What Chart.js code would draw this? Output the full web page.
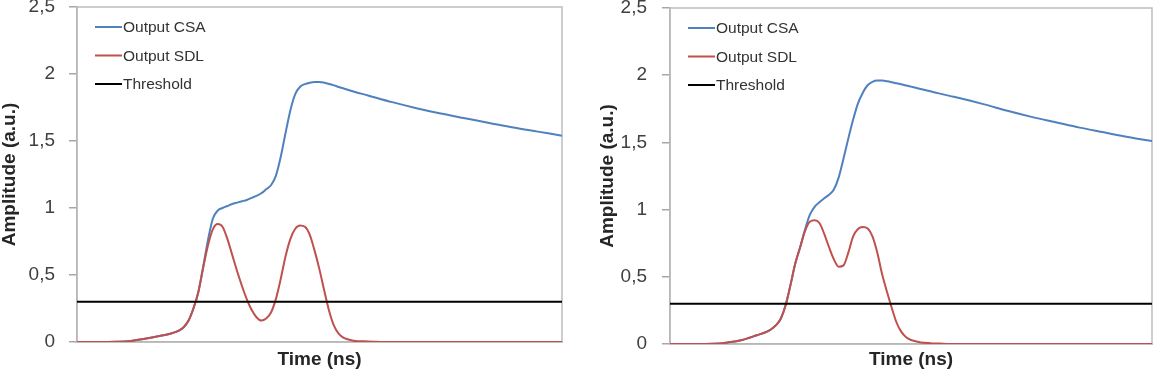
<!DOCTYPE html>
<html>
<head>
<meta charset="utf-8">
<script src="https://cdn.jsdelivr.net/npm/chart.js@4.4.1/dist/chart.umd.min.js"></script>
<style>
  html, body { margin: 0; padding: 0; background: #fff; }
  .box { position: absolute; top: 0; height: 372px; width: 578px; }
</style>
</head>
<body>
<div class="box" style="left:0"><canvas id="leftCanvas"></canvas></div>
<div class="box" style="left:578px"><canvas id="rightCanvas"></canvas></div>
<script>
// y axis tick labels (decimal comma)
var yTicks = [0, 0.5, 1, 1.5, 2, 2.5];
var yTickLabels = ['0', '0,5', '1', '1,5', '2', '2,5'];
var seriesNames = ['Output CSA', 'Output SDL', 'Threshold'];
var thresholdTime = [0, 100];
var thresholdValue = [0.3, 0.3];

// left plot
var leftTime = [0, 5, 8, 11, 14, 17, 19, 21, 22, 23, 24, 25, 26, 27, 28, 29, 30, 31, 32, 33, 34, 35,
  36, 37, 38, 39, 40, 41, 42, 43, 44, 45, 46, 47, 48, 49, 50, 51, 52, 53, 54, 55, 57, 60, 65, 70, 75,
  80, 85, 90, 95, 100];
var leftCSA = [0, 0, 0.002, 0.008, 0.025, 0.045, 0.06, 0.085, 0.11, 0.16, 0.25, 0.37, 0.56, 0.76, 0.92,
  0.98, 1.0, 1.015, 1.03, 1.04, 1.05, 1.06, 1.075, 1.09, 1.11, 1.14, 1.17, 1.24, 1.38, 1.56, 1.73, 1.85,
  1.905, 1.925, 1.935, 1.94, 1.94, 1.935, 1.926, 1.915, 1.903, 1.892, 1.87, 1.84, 1.79, 1.745, 1.705,
  1.67, 1.635, 1.60, 1.57, 1.54];
var leftSDL = [0, 0, 0.002, 0.008, 0.025, 0.045, 0.06, 0.085, 0.11, 0.16, 0.25, 0.37, 0.55, 0.72, 0.84,
  0.88, 0.86, 0.77, 0.65, 0.53, 0.42, 0.32, 0.24, 0.185, 0.16, 0.175, 0.22, 0.32, 0.47, 0.64, 0.77, 0.845,
  0.87, 0.86, 0.80, 0.68, 0.54, 0.38, 0.23, 0.12, 0.06, 0.03, 0.01, 0.004, 0, 0, 0, 0, 0, 0, 0, 0];

// right plot
var rightTime = [0, 5, 9, 12, 15, 18, 20, 21, 22, 23, 24, 25, 26, 27, 28, 29, 30, 31, 32, 33, 34, 35,
  36, 37, 38, 39, 40, 41, 42, 43, 44, 45, 46, 47, 48, 49, 50, 51, 52, 54, 56, 58, 60, 65, 70, 75, 80,
  85, 90, 95, 100];
var rightCSA = [0, 0, 0.002, 0.012, 0.03, 0.065, 0.09, 0.11, 0.14, 0.19, 0.29, 0.44, 0.60, 0.72, 0.85,
  0.96, 1.02, 1.055, 1.085, 1.11, 1.15, 1.24, 1.38, 1.53, 1.67, 1.79, 1.87, 1.925, 1.95, 1.96, 1.96,
  1.955, 1.948, 1.94, 1.932, 1.924, 1.915, 1.906, 1.897, 1.88, 1.863, 1.846, 1.83, 1.785, 1.735, 1.69,
  1.65, 1.61, 1.575, 1.54, 1.51];
var rightSDL = [0, 0, 0.002, 0.012, 0.03, 0.065, 0.09, 0.11, 0.14, 0.19, 0.29, 0.44, 0.60, 0.72, 0.84,
  0.91, 0.92, 0.90, 0.82, 0.72, 0.63, 0.575, 0.585, 0.68, 0.80, 0.855, 0.87, 0.86, 0.80, 0.68, 0.52,
  0.39, 0.27, 0.16, 0.09, 0.05, 0.03, 0.02, 0.012, 0.006, 0.003, 0, 0, 0, 0, 0, 0, 0, 0, 0, 0];

var FONT = '"Liberation Sans", Arial, sans-serif';

function toPoints(xs, ys) {
  return xs.map(function (x, i) { return { x: x, y: ys[i] }; });
}

// grey frame around the plot area
var frame = {
  id: 'frame',
  beforeDatasetsDraw: function (chart) {
    var a = chart.chartArea, ctx = chart.ctx;
    ctx.save();
    ctx.strokeStyle = '#bdbdbd';
    ctx.lineWidth = 1.5;
    ctx.strokeRect(a.left, a.top, a.right - a.left, a.bottom - a.top);
    ctx.restore();
  }
};

// legend drawn inside the plot, top left
var insideLegend = {
  id: 'insideLegend',
  afterDatasetsDraw: function (chart) {
    var a = chart.chartArea, ctx = chart.ctx;
    ctx.save();
    ctx.font = '15.5px ' + FONT;
    ctx.textBaseline = 'middle';
    chart.data.datasets.forEach(function (ds, i) {
      var y = a.top + 20 + i * 28.5;
      ctx.strokeStyle = ds.borderColor;
      ctx.lineWidth = 2;
      ctx.beginPath();
      ctx.moveTo(a.left + 18, y);
      ctx.lineTo(a.left + 45, y);
      ctx.stroke();
      ctx.fillStyle = '#333333';
      ctx.fillText(ds.label, a.left + 46, y + 1);
    });
    ctx.restore();
  }
};

function createChart(canvasId, time, csa, sdl, layout) {
  var ctx = document.getElementById(canvasId).getContext('2d');
  return new Chart(ctx, {
    type: 'line',
    data: {
      datasets: [
        { label: seriesNames[0], data: toPoints(time, csa), borderColor: '#4F81BD', order: 3 },
        { label: seriesNames[1], data: toPoints(time, sdl), borderColor: '#C0504D', order: 2 },
        { label: seriesNames[2], data: toPoints(thresholdTime, thresholdValue), borderColor: '#000000', order: 1 }
      ]
    },
    options: {
      responsive: true,
      maintainAspectRatio: false,
      animation: false,
      layout: { padding: { left: 0, right: layout.padRight, top: layout.padTop, bottom: 0 } },
      elements: {
        point: { radius: 0 },
        line: { borderWidth: 2, cubicInterpolationMode: 'monotone' }
      },
      plugins: { legend: { display: false }, tooltip: { enabled: false } },
      scales: {
        x: {
          type: 'linear',
          min: 0,
          max: 100,
          grid: { display: false },
          border: { display: true, color: '#a6a6a6', width: 1.5 },
          ticks: { display: false },
          title: {
            display: true,
            text: 'Time (ns)',
            color: '#262626',
            font: { family: FONT, size: 19, weight: 'bold', lineHeight: 1 },
            padding: { top: 0, bottom: 3 }
          },
          afterFit: function (scale) {
            scale.height = layout.xHeight;
            scale.paddingLeft = 0;
            scale.paddingRight = 0;
          }
        },
        y: {
          min: 0,
          max: 2.5,
          afterBuildTicks: function (scale) {
            scale.ticks = yTicks.map(function (v) { return { value: v }; });
          },
          ticks: {
            color: '#404040',
            padding: layout.tickPad,
            font: { family: FONT, size: 19 },
            callback: function (value) { return yTickLabels[yTicks.indexOf(value)]; }
          },
          grid: { display: true, drawOnChartArea: false, drawTicks: true, tickLength: 8, color: '#a6a6a6', lineWidth: 1.5 },
          border: { display: true, color: '#a6a6a6', width: 1.5 },
          title: {
            display: true,
            text: 'Amplitude (a.u.)',
            color: '#262626',
            font: { family: FONT, size: 19, weight: 'bold', lineHeight: 1 },
            padding: { top: layout.titlePad, bottom: 0 }
          },
          afterFit: function (scale) {
            scale.width = layout.yWidth;
            // let the plot area reach close to the top edge
            scale.paddingTop = 0;
            scale.paddingBottom = 0;
          }
        }
      }
    },
    plugins: [frame, insideLegend]
  });
}

createChart('leftCanvas', leftTime, leftCSA, leftSDL,
  { yWidth: 77, padRight: 16, padTop: 7, xHeight: 30, tickPad: 14, titlePad: 0.5 });
createChart('rightCanvas', rightTime, rightCSA, rightSDL,
  { yWidth: 92, padRight: 4, padTop: 8, xHeight: 28, tickPad: 15, titlePad: 20 });
</script>
</body>
</html>
